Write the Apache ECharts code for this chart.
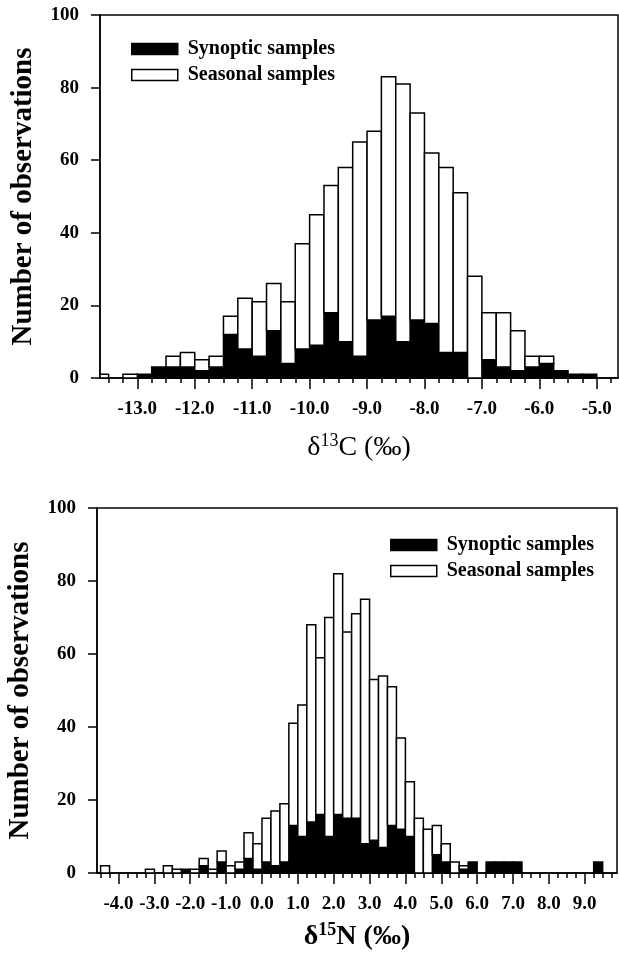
<!DOCTYPE html>
<html>
<head>
<meta charset="utf-8">
<script src="https://cdn.jsdelivr.net/npm/echarts@6.0.0/dist/echarts.min.js"></script>
<style>
  html, body { margin: 0; padding: 0; background: #fff; }
  #chart { width: 619px; height: 964px; }
</style>
</head>
<body>
<div id="chart"></div>
<script>
// lower edge of each 0.25 bin
const c13Bins = [-13.75, -13.5, -13.25, -13.0, -12.75, -12.5, -12.25, -12.0, -11.75, -11.5,
  -11.25, -11.0, -10.75, -10.5, -10.25, -10.0, -9.75, -9.5, -9.25, -9.0,
  -8.75, -8.5, -8.25, -8.0, -7.75, -7.5, -7.25, -7.0, -6.75, -6.5,
  -6.25, -6.0, -5.75, -5.5, -5.25]
const c13Synoptic = [0, 0, 0, 1, 3, 3, 3, 2, 3, 12,
  8, 6, 13, 4, 8, 9, 18, 10, 6, 16,
  17, 10, 16, 15, 7, 7, 0, 5, 3, 2,
  3, 4, 2, 1, 1]
const c13Seasonal = [1, 0, 1, 0, 0, 3, 4, 3, 3, 5,
  14, 15, 13, 17, 29, 36, 35, 48, 59, 52,
  66, 71, 57, 47, 51, 44, 28, 13, 15, 11,
  3, 2, 0, 0, 0]
const c13Ticks = [-13, -12, -11, -10, -9, -8, -7, -6, -5]

const n15Bins = [-4.5, -4.25, -4.0, -3.75, -3.5, -3.25, -3.0, -2.75, -2.5, -2.25,
  -2.0, -1.75, -1.5, -1.25, -1.0, -0.75, -0.5, -0.25, 0.0, 0.25,
  0.5, 0.75, 1.0, 1.25, 1.5, 1.75, 2.0, 2.25, 2.5, 2.75,
  3.0, 3.25, 3.5, 3.75, 4.0, 4.25, 4.5, 4.75, 5.0, 5.25,
  5.5, 5.75, 6.0, 6.25, 6.5, 6.75, 7.0, 7.25, 7.5, 7.75,
  8.0, 8.25, 8.5, 8.75, 9.0, 9.25]
const n15Synoptic = [0, 0, 0, 0, 0, 0, 0, 0, 0, 1,
  0, 2, 0, 3, 0, 1, 4, 1, 3, 2,
  3, 13, 10, 14, 16, 10, 16, 15, 15, 8,
  9, 7, 13, 12, 10, 0, 0, 5, 3, 0,
  1, 3, 0, 3, 3, 3, 3, 0, 0, 0,
  0, 0, 0, 0, 0, 3]
const n15Seasonal = [2, 0, 0, 0, 0, 1, 0, 2, 1, 0,
  1, 2, 1, 3, 2, 2, 7, 7, 12, 15,
  16, 28, 36, 54, 43, 60, 66, 51, 56, 67,
  44, 47, 38, 25, 15, 15, 12, 8, 5, 3,
  1, 0, 0, 0, 0, 0, 0, 0, 0, 0,
  0, 0, 0, 0, 0, 0]
const n15Ticks = [-4, -3, -2, -1, 0, 1, 2, 3, 4, 5, 6, 7, 8, 9]

const BIN = 0.25
const FONT = 'Liberation Serif'

let chart = echarts.init(document.getElementById('chart'))

// rows: [binStart, bottom, top]
function lowerRows(bins, low) {
  return bins.map((b, i) => [b, 0, low[i]])
}
function upperRows(bins, low, high) {
  return bins.map((b, i) => [b, low[i], low[i] + high[i]])
}

function quarterTicks(min, max) {
  let out = []
  for (let v = Math.ceil(min * 4) / 4; v <= max + 1e-9; v += 0.25) out.push(v)
  return out
}

function barRenderer(fill) {
  return function (params, api) {
    let x0 = api.value(0), lo = api.value(1), hi = api.value(2)
    if (hi <= lo) return null
    let p0 = api.coord([x0, lo])
    let p1 = api.coord([x0 + BIN, hi])
    let cs = params.coordSys
    let rect = echarts.graphic.clipRectByRect(
      { x: p0[0], y: p1[1], width: p1[0] - p0[0], height: p0[1] - p1[1] },
      { x: cs.x, y: cs.y, width: cs.width, height: cs.height })
    if (!rect) return null
    return { type: 'rect', shape: rect, style: { fill: fill, stroke: '#000', lineWidth: 1.5 } }
  }
}

const labelStyle = { color: '#000', fontFamily: FONT, fontWeight: 'bold', fontSize: 19 }
const blackLine = { color: '#000', width: 1.5 }

function mainX(grid, min, max, ticks, name, gap, rich) {
  return {
    gridIndex: grid, type: 'value', min: min, max: max,
    axisLine: { onZero: false, lineStyle: blackLine },
    axisTick: { customValues: ticks, length: 11, lineStyle: blackLine },
    axisLabel: Object.assign({ customValues: ticks, margin: 22, formatter: v => v.toFixed(1) }, labelStyle),
    splitLine: { show: false },
    name: name, nameLocation: 'middle', nameGap: gap,
    nameTextStyle: { rich: rich }
  }
}
function minorX(grid, min, max) {
  return {
    gridIndex: grid, type: 'value', min: min, max: max,
    axisLine: { show: false, onZero: false },
    axisTick: { customValues: quarterTicks(min, max), length: 5, lineStyle: blackLine },
    axisLabel: { show: false },
    splitLine: { show: false }
  }
}
function mainY(grid) {
  return {
    gridIndex: grid, type: 'value', min: 0, max: 100, interval: 20,
    axisLine: { show: true, onZero: false, lineStyle: blackLine },
    axisTick: { show: true, length: 9, lineStyle: blackLine },
    axisLabel: Object.assign({ margin: 21 }, labelStyle),
    splitLine: { show: false },
    name: 'Number of observations', nameLocation: 'middle', nameGap: 62,
    nameTextStyle: { color: '#000', fontFamily: FONT, fontWeight: 'bold', fontSize: 29 }
  }
}
function hiddenY(grid) {
  return { gridIndex: grid, type: 'value', min: 0, max: 100, show: false }
}

function titleRich(weight) {
  return {
    a: { color: '#000', fontFamily: FONT, fontWeight: weight, fontSize: 28, lineHeight: 32 },
    s: { color: '#000', fontFamily: FONT, fontWeight: weight, fontSize: 18, verticalAlign: 'top', lineHeight: 32 }
  }
}

const legendItems = [
  { name: 'Synoptic samples', icon: 'rect', itemStyle: { color: '#000', borderColor: '#000', borderWidth: 1.5 } },
  { name: 'Seasonal samples', icon: 'rect', itemStyle: { color: '#fff', borderColor: '#000', borderWidth: 1.5 } }
]
const legendText = { color: '#000', fontFamily: FONT, fontWeight: 'bold', fontSize: 20, padding: [0, 0, 0, 5] }

const frame = { show: true, borderColor: '#000', borderWidth: 1.5, backgroundColor: 'transparent', outerBoundsMode: 'none' }

chart.setOption({
  animation: false,
  grid: [
    Object.assign({ left: 100, top: 15, width: 518, height: 363 }, frame),
    { left: 100, top: 15, width: 518, height: 363, show: false, outerBoundsMode: 'none' },
    Object.assign({ left: 97, top: 508, width: 520, height: 365 }, frame),
    { left: 97, top: 508, width: 520, height: 365, show: false, outerBoundsMode: 'none' }
  ],
  legend: [
    { data: legendItems, orient: 'vertical', left: 126, top: 34, itemWidth: 46, itemHeight: 11, itemGap: 6, selectedMode: false, textStyle: legendText },
    { data: legendItems, orient: 'vertical', left: 385, top: 530, itemWidth: 46, itemHeight: 11, itemGap: 6, selectedMode: false, textStyle: legendText }
  ],
  xAxis: [
    mainX(0, -13.65, -4.63, c13Ticks, '{a|δ}{s|13}{a|C (‰)}', 54, titleRich('normal')),
    minorX(1, -13.65, -4.63),
    mainX(2, -4.6, 9.9, n15Ticks, '{a|δ}{s|15}{a|N (‰)}', 48, titleRich('bold')),
    minorX(3, -4.6, 9.9)
  ],
  yAxis: [mainY(0), hiddenY(1), mainY(2), hiddenY(3)],
  series: [
    { name: 'Synoptic samples', type: 'custom', xAxisIndex: 0, yAxisIndex: 0, itemStyle: { color: '#000' },
      renderItem: barRenderer('#000'), data: lowerRows(c13Bins, c13Synoptic) },
    { name: 'Seasonal samples', type: 'custom', xAxisIndex: 0, yAxisIndex: 0, itemStyle: { color: '#fff' },
      renderItem: barRenderer('#fff'), data: upperRows(c13Bins, c13Synoptic, c13Seasonal) },
    { name: 'Synoptic samples', type: 'custom', xAxisIndex: 2, yAxisIndex: 2, itemStyle: { color: '#000' },
      renderItem: barRenderer('#000'), data: lowerRows(n15Bins, n15Synoptic) },
    { name: 'Seasonal samples', type: 'custom', xAxisIndex: 2, yAxisIndex: 2, itemStyle: { color: '#fff' },
      renderItem: barRenderer('#fff'), data: upperRows(n15Bins, n15Synoptic, n15Seasonal) }
  ]
})
</script>
</body>
</html>
